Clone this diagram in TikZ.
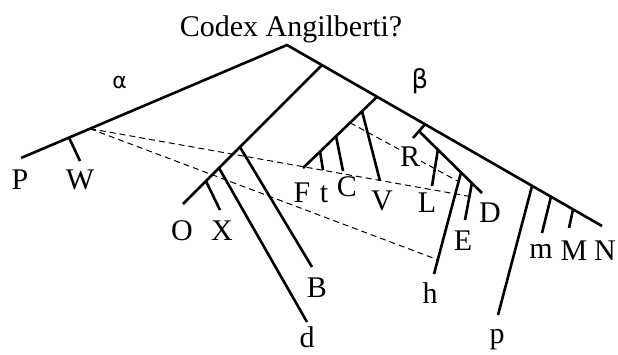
\documentclass[tikz,border=0pt]{standalone}
\usepackage{fontspec}
\setmainfont{Liberation Serif}
\newfontfamily\greekfont{DejaVu Sans}
\usetikzlibrary{calc}
\tikzset{
  branch/.style={line width=2.6pt},
  link/.style={line width=1pt, dash pattern=on 6pt off 4pt},
  siglum/.style={anchor=base, inner sep=0pt, font=\fontsize{30}{32}\selectfont},
  greek/.style={anchor=base, inner sep=0pt},
}
\begin{document}
\begin{tikzpicture}[x=1pt,y=-1pt]
\useasboundingbox (0,0) rectangle (618,354);
% main coordinates
\coordinate (root) at (287,45);
\coordinate (Pend) at (21,158);
\coordinate (Nend) at (602,226);
\coordinate (Wj) at ($(root)!0.8195!(Pend)$);
\coordinate (Wd) at ($(root)!0.7406!(Pend)$);
\coordinate (Wend) at (80,161);
\coordinate (midj) at ($(root)!0.111!(Nend)$);
\coordinate (betaj) at ($(root)!0.286!(Nend)$);
\coordinate (Rj) at ($(root)!0.438!(Nend)$);
\coordinate (pj) at ($(root)!0.778!(Nend)$);
\coordinate (mj) at ($(root)!0.838!(Nend)$);
\coordinate (Mj) at ($(root)!0.908!(Nend)$);
% middle subtree
\coordinate (Oend) at (183,204);
\coordinate (Bj) at ($(midj)!0.59!(Oend)$);
\coordinate (dj) at ($(midj)!0.741!(Oend)$);
\coordinate (Xj) at ($(midj)!0.835!(Oend)$);
\coordinate (Bend) at (312,267);
\coordinate (dend) at (307,322);
\coordinate (Xend) at (220,210);
% F subtree
\coordinate (Fend) at (303,168);
\coordinate (Vj) at ($(betaj)!0.203!(Fend)$);
\coordinate (Cj) at ($(betaj)!0.554!(Fend)$);
\coordinate (tj) at ($(betaj)!0.77!(Fend)$);
\coordinate (Vend) at (380,181);
\coordinate (Cend) at (343,171);
\coordinate (tend) at (323,170);
% R subtree
\coordinate (Rend) at (413,138);
\coordinate (Rsub) at ($(Rj)!0.5!(Rend)$);
\coordinate (Dend) at (482,193);
\coordinate (Lj) at ($(Rsub)!0.30!(Dend)$);
\coordinate (hj) at ($(Rsub)!0.667!(Dend)$);
\coordinate (Ej) at ($(Rsub)!0.84!(Dend)$);
\coordinate (Lend) at (432,186);
\coordinate (hend) at (434,274);
\coordinate (Eend) at (465,220);
% right leaves
\coordinate (pend) at (498,315);
\coordinate (mend) at (542,233);
\coordinate (Mend) at (569,228);
% dashed line ends
\coordinate (da1) at ($(Ej)!0.36!(Eend)$);
\coordinate (da2) at ($(hj)!0.86!(hend)$);
\coordinate (da3s) at ($(betaj)!0.365!(Fend)$);
\coordinate (da3e) at ($(hj)!0.09!(hend)$);

% contamination links (dashed)
\draw[link] (Wd) -- (da1);
\draw[link] (Wd) -- (da2);
\draw[link] (da3s) -- (da3e);

% stemma branches
\draw[branch] (Pend) -- (root) -- (Nend);
\draw[branch] (Wj) -- (Wend);
\draw[branch] (midj) -- (Oend);
\draw[branch] (Bj) -- (Bend);
\draw[branch] (dj) -- (dend);
\draw[branch] (Xj) -- (Xend);
\draw[branch] (betaj) -- (Fend);
\draw[branch] (Vj) -- (Vend);
\draw[branch] (Cj) -- (Cend);
\draw[branch] (tj) -- (tend);
\draw[branch] (Rj) -- (Rend);
\draw[branch] (Rsub) -- (Dend);
\draw[branch] (Lj) -- (Lend);
\draw[branch] (hj) -- (hend);
\draw[branch] (Ej) -- (Eend);
\draw[branch] (pj) -- (pend);
\draw[branch] (mj) -- (mend);
\draw[branch] (Mj) -- (Mend);

% labels
\node[siglum] (title) at (291,36.5) {Codex Angilberti?};
\node[greek, font=\greekfont\fontsize{22}{24}\selectfont] (alpha) at (119.5,88) {α};
\node[greek, font=\greekfont\fontsize{26}{28}\selectfont] (beta) at (420,88) {β};
\node[siglum] (P) at (20,189) {P};
\node[siglum] (W) at (80,189) {W};
\node[siglum] (O) at (182,240) {O};
\node[siglum] (X) at (222,240) {X};
\node[siglum] (B) at (317,297) {B};
\node[siglum] (d) at (307,347) {d};
\node[siglum] (F) at (302,202) {F};
\node[siglum] (t) at (324,202) {t};
\node[siglum] (C) at (347,196) {C};
\node[siglum] (V) at (382,210) {V};
\node[siglum, fill=white, inner sep=1pt] (R) at (410,166) {R};
\node[siglum] (L) at (427,212) {L};
\node[siglum] (D) at (490,222) {D};
\node[siglum] (E) at (463,250) {E};
\node[siglum] (h) at (430,303) {h};
\node[siglum] (p) at (497,343) {p};
\node[siglum] (m) at (541,258) {m};
\node[siglum] (M) at (574,260) {M};
\node[siglum] (N) at (605,260) {N};
\end{tikzpicture}
\end{document}
